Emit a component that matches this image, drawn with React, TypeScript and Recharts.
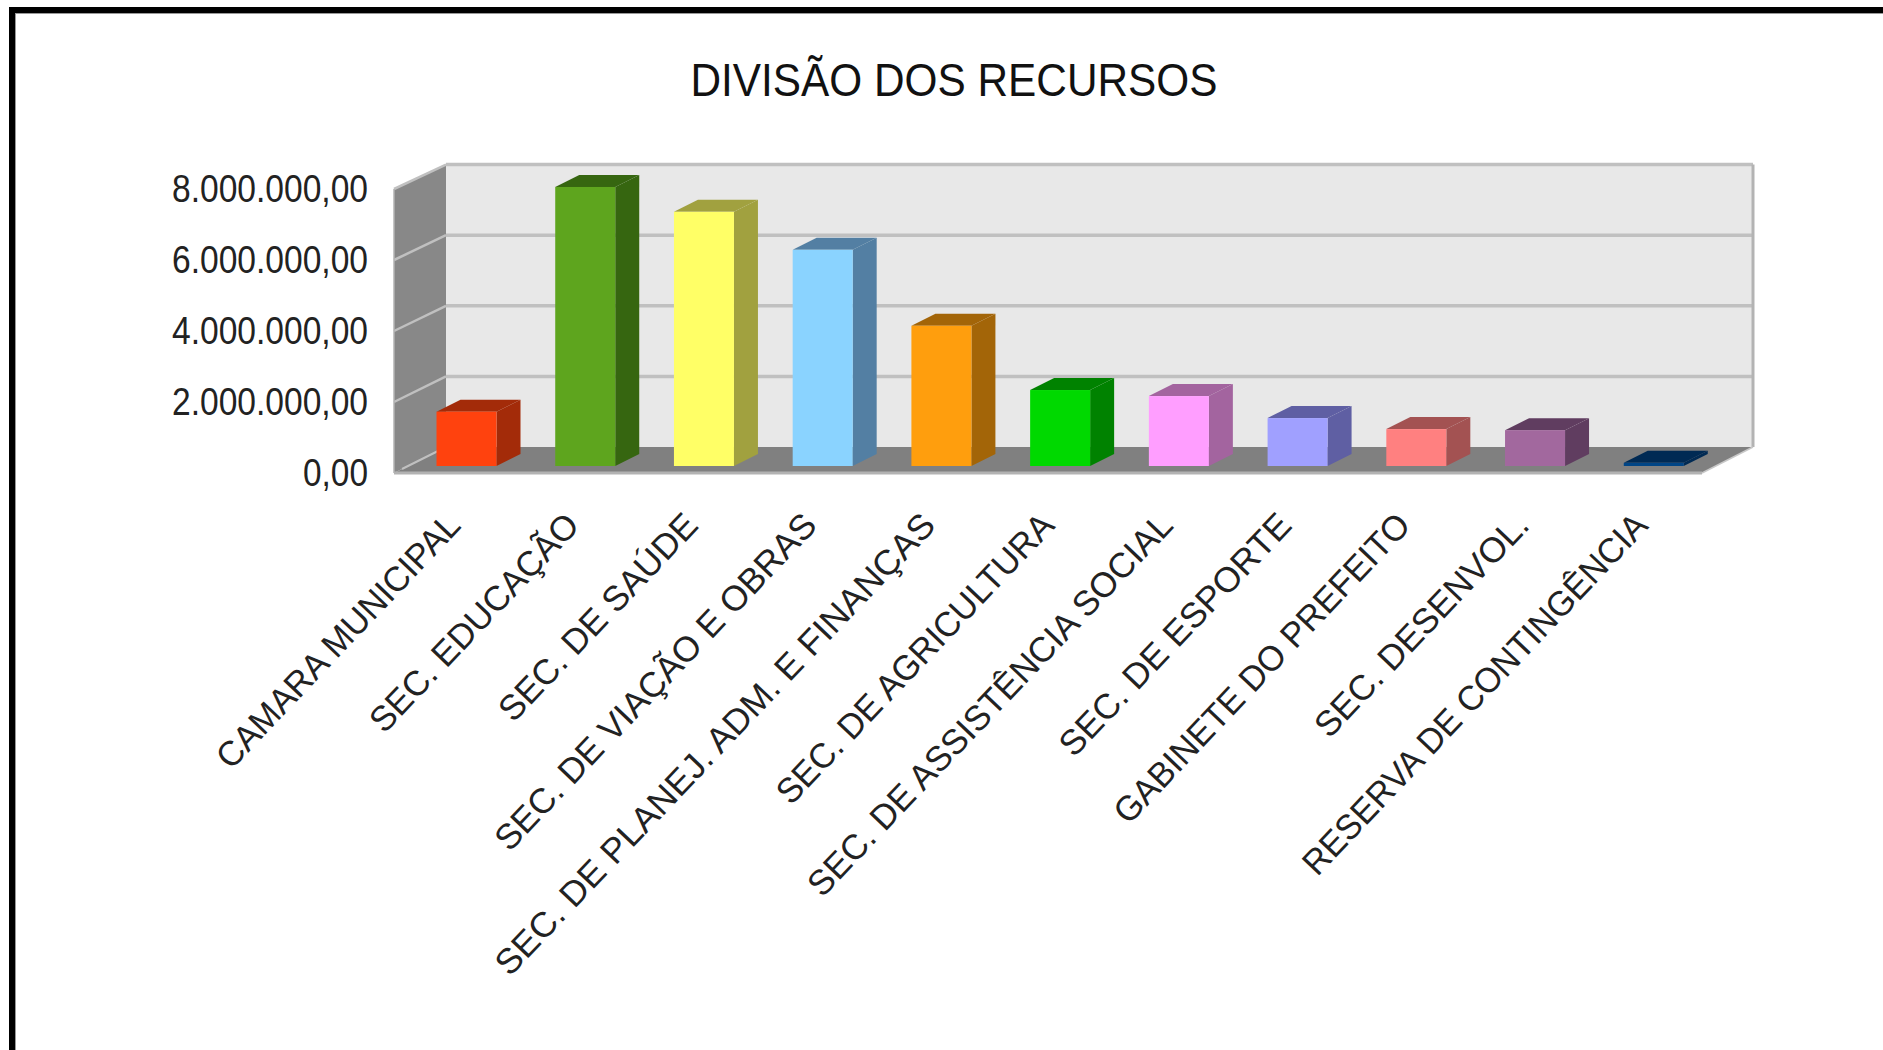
import React from "react";
import { BarChart, Bar, XAxis, YAxis, Cell, usePlotArea } from "recharts";

const categories = ["CAMARA MUNICIPAL","SEC. EDUCAÇÃO","SEC. DE SAÚDE","SEC. DE VIAÇÃO E OBRAS","SEC. DE PLANEJ. ADM. E FINANÇAS","SEC. DE AGRICULTURA","SEC. DE ASSISTÊNCIA SOCIAL","SEC. DE ESPORTE","GABINETE DO PREFEITO","SEC. DESENVOL.","RESERVA DE CONTINGÊNCIA"];
const values = [1530000,7860000,7160000,6090000,3950000,2140000,1970000,1350000,1040000,1010000,90000];
const frontColors = ["#ff420e","#5ea51e","#ffff66","#8ad3ff","#ff9e0d","#00d900","#ff9eff","#a0a0ff","#ff8080","#a2689e","#004586"];
const sideColors = ["#a32b09","#366610","#a1a13f","#537fa3","#a36508","#008200","#a3649f","#5f5fa3","#a35252","#603d60","#002a54"];
const yTicks = [0,2000000,4000000,6000000,8000000];
const tickLabels = ["0,00","2.000.000,00","4.000.000,00","6.000.000,00","8.000.000,00"];
const chartTitle = "DIVISÃO DOS RECURSOS";
const labelLengths = [336,286,271,449,621,385,512,319,412,293,483];

const FONT = "'Liberation Sans', Arial, sans-serif";
const BAR_DX = 24, BAR_DY = 12;

function Bar3D(props: any) {
  const { x, y, width, height, index } = props;
  const dx = BAR_DX, dy = BAR_DY;
  const c = sideColors[index];
  return (
    <g>
      <polygon points={`${x},${y} ${x+dx},${y-dy} ${x+width+dx},${y-dy} ${x+width},${y}`} fill={c} />
      <polygon points={`${x+width},${y} ${x+width+dx},${y-dy} ${x+width+dx},${y+height-dy} ${x+width},${y+height}`} fill={c} />
      <rect x={x} y={y} width={width} height={height} fill={frontColors[index]} />
    </g>
  );
}

function Walls() {
  const off = usePlotArea();
  if (!off) return null;
  const left = off.x, top = off.y, w = off.width, h = off.height;
  const bottom = top + h;
  const fx0 = left - 13, fx1 = left + w - 11, fy = bottom + 7;
  const bx0 = fx0 + 52, bx1 = fx1 + 51, by = bottom - 19;
  const step = h / 4;
  const backStep = step - 0.4;
  const lines = [1,2,3,4];
  return (
    <g>
      <polygon points={`${bx0},${by} ${bx1},${by} ${bx1},${by-4*backStep} ${bx0},${by-4*backStep}`} fill="#e8e8e8" />
      <polygon points={`${fx0},${fy} ${fx1},${fy} ${bx1},${by} ${bx0},${by}`} fill="#808080" />
      <polygon points={`${fx0},${fy} ${bx0},${by} ${bx0},${by-4*backStep} ${fx0},${fy-4*step}`} fill="#888888" />
      {lines.map(i => (
        <g key={i}>
          <line x1={bx0} x2={bx1} y1={by-i*backStep} y2={by-i*backStep} stroke="#c0c0c0" strokeWidth={3.5} />
          <line x1={fx0} x2={bx0} y1={fy-i*step} y2={by-i*backStep} stroke="#c0c0c0" strokeWidth={2.5} />
        </g>
      ))}
      <line x1={fx0+8} x2={bx0} y1={fy-4} y2={by} stroke="#c0c0c0" strokeWidth={2} />
      <line x1={bx1} x2={bx1} y1={by} y2={by-4*backStep} stroke="#b3b3b3" strokeWidth={3} />
      <line x1={fx0} x2={fx1} y1={fy} y2={fy} stroke="#b3b3b3" strokeWidth={3} />
      <line x1={fx1} x2={bx1} y1={fy} y2={by} stroke="#c8c8c8" strokeWidth={1.5} />
      <line x1={fx0} x2={fx0} y1={fy} y2={fy-4*step} stroke="#b3b3b3" strokeWidth={1.5} />
    </g>
  );
}

function YTick(props: any) {
  const { x, y, index } = props;
  return <text x={x + 1} y={y + 20} textAnchor="end" fontFamily={FONT} fontSize={38} textLength={index === 0 ? 65 : 196} lengthAdjust="spacingAndGlyphs" fill="#222">{tickLabels[index]}</text>;
}

function XTick(props: any) {
  const { x, payload, index } = props;
  return (
    <g transform={`translate(${x - 4},${527})`}>
      <text transform="rotate(-46.5)" textAnchor="end" fontFamily={FONT} fontSize={35} textLength={labelLengths[index]} lengthAdjust="spacingAndGlyphs" fill="#222">{payload.value}</text>
    </g>
  );
}

const data = categories.map((name, i) => ({ name, value: values[i] }));

export default function App() {
  return (
    <div style={{ position: "absolute", left: 0, top: 0, width: 1883, height: 1050, background: "#fff", overflow: "hidden" }}>
      <div style={{ position: "absolute", left: 9, top: 7, right: 0, bottom: 0, borderLeft: "6px solid #000", borderTop: "6px solid #000", boxShadow: "inset 1px 1px 0 #999" }} />
      <BarChart width={1883} height={1050} data={data} margin={{ top: 182, right: 170, bottom: 484, left: 277 }} barCategoryGap={29.5} style={{ position: "absolute", left: 0, top: 0 }}>
        <Walls />
        <text x={954} y={96} textAnchor="middle" fontFamily={FONT} fontSize={47} textLength={527} lengthAdjust="spacingAndGlyphs" fill="#111">{chartTitle}</text>
        <XAxis dataKey="name" interval={0} axisLine={false} tickLine={false} height={100} tick={<XTick />} />
        <YAxis domain={[0, 8000000]} ticks={yTicks} width={130} axisLine={false} tickLine={false} tickSize={0} tickMargin={40} tick={<YTick />} />
        <Bar dataKey="value" isAnimationActive={false} shape={<Bar3D />}>
          {categories.map((c, i) => <Cell key={c} fill={frontColors[i]} />)}
        </Bar>
      </BarChart>
    </div>
  );
}
